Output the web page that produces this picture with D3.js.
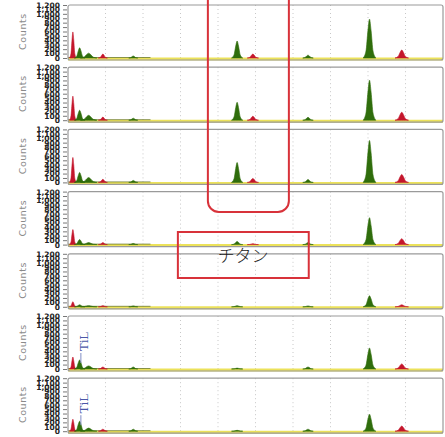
<!DOCTYPE html>
<html>
<head>
<meta charset="utf-8">
<script src="https://cdn.jsdelivr.net/npm/d3@7"></script>
<style>
  body { margin: 0; background: #fff; }
  svg { display: block; }
</style>
</head>
<body>
<div id="chart"></div>
<script>
// peak positions (keV) and how each one is coloured
const energies   = [0.13, 0.31, 0.55, 0.93, 1.74, 4.51, 4.93, 6.40, 8.04, 8.90];
const peakColors = ["red", "green", "green", "red", "green", "green", "red", "green", "green", "red"];
const peakWidths = [0.09, 0.14, 0.22, 0.12, 0.12, 0.15, 0.15, 0.14, 0.17, 0.18];

// peak heights (counts) per spectrum, same order as energies
const spectrum1 = [590, 230, 110, 90, 45, 385, 90, 65, 880, 180];
const spectrum2 = [545, 225, 110, 70, 45, 405, 90, 65, 905, 180];
const spectrum3 = [565, 225, 110, 70, 45, 450, 90, 65, 950, 180];
const spectrum4 = [340, 115, 45, 45, 25, 70, 20, 45, 610, 135];
const spectrum5 = [115, 45, 25, 25, 20, 25, 0, 20, 250, 45];
const spectrum6 = [270, 205, 70, 45, 45, 20, 0, 45, 475, 115];
const spectrum7 = [270, 225, 70, 45, 45, 20, 0, 45, 385, 115];
const spectra = [spectrum1, spectrum2, spectrum3, spectrum4, spectrum5, spectrum6, spectrum7];

const yTicks = [0, 100, 200, 300, 400, 500, 600, 700, 800, 900, 1000, 1100, 1200];
const xGrid = [1, 2, 3, 4, 5, 6, 7, 8, 9];
const markerEnergy = 0.45;          // Ti L line
const markerPanels = [5, 6];
const markerLabel = "TiL";
const boxLabel = "チタン";

// relative outline of one peak: [offset in widths, fraction of height]
const peakShape = [[-1, 0], [-0.55, 0.18], [-0.25, 0.7], [0, 1], [0.25, 0.7], [0.55, 0.18], [1, 0]];

const width = 445, height = 437;
const left = 68, right = 443;
const panelTop0 = 5, panelStep = 62.2, panelH = 53;

const colorOf = { red: "#c4162c", green: "#2f6d0c" };

const svg = d3.select("#chart").append("svg")
  .attr("width", width).attr("height", height);

const x = d3.scaleLinear().domain([0, 10]).range([left, right]);

const area = d3.area()
  .curve(d3.curveMonotoneX);

spectra.forEach((counts, i) => {
  const top = panelTop0 + i * panelStep;
  const y = d3.scaleLinear().domain([0, 1200]).range([top + panelH, top]);
  const g = svg.append("g");

  // vertical dotted grid
  g.selectAll(".grid")
    .data(xGrid)
    .enter()
    .append("line")
    .attr("x1", d => x(d)).attr("x2", d => x(d))
    .attr("y1", top).attr("y2", top + panelH)
    .attr("stroke", "#c8c8c8")
    .attr("stroke-width", 1)
    .attr("stroke-dasharray", "1,3");

  // yellow baseline band
  g.append("line")
    .attr("x1", left).attr("x2", right)
    .attr("y1", y(0) + 1).attr("y2", y(0) + 1)
    .attr("stroke", "#ece25a")
    .attr("stroke-width", 3);
  g.append("line")
    .attr("x1", left).attr("x2", x(2.2))
    .attr("y1", y(0) - 0.5).attr("y2", y(0) - 0.5)
    .attr("stroke", "#5a6a1a")
    .attr("stroke-opacity", 0.7)
    .attr("stroke-width", 1);

  // peaks
  const peaks = energies.map((e, k) => ({ e, w: peakWidths[k], h: counts[k], c: peakColors[k] }))
    .filter(p => p.h > 0);
  area.x(d => x(d[0])).y0(y(0)).y1(d => y(d[1]));
  g.selectAll(".peak")
    .data(peaks)
    .enter()
    .append("path")
    .attr("class", "peak")
    .attr("d", p => area(peakShape.map(s => [Math.max(0.02, p.e + s[0] * p.w), s[1] * p.h])))
    .attr("fill", p => colorOf[p.c])
    .attr("stroke", p => colorOf[p.c])
    .attr("stroke-width", 0.6);

  // frame
  g.append("rect")
    .attr("x", left).attr("y", top)
    .attr("width", right - left).attr("height", panelH + 2)
    .attr("rx", 2)
    .attr("fill", "none")
    .attr("stroke", "#9a9a9a")
    .attr("stroke-width", 1.2);

  // crowded count axis
  const axis = d3.axisLeft(y).tickValues(yTicks).tickSize(4).tickPadding(3);
  const ag = g.append("g")
    .attr("transform", `translate(${left - 1},0)`)
    .call(axis);
  ag.select(".domain").remove();
  ag.selectAll("line").attr("stroke", "#777");
  ag.selectAll("text")
    .attr("font-family", "DejaVu Sans")
    .attr("font-size", 7.5)
    .attr("font-weight", "bold")
    .attr("fill", "#222");

  g.append("text")
    .attr("transform", `translate(26,${top + panelH / 2}) rotate(-90)`)
    .attr("text-anchor", "middle")
    .attr("font-family", "DejaVu Sans")
    .attr("font-size", 9.5)
    .attr("letter-spacing", 0.6)
    .attr("fill", "#8a8a8a")
    .text("Counts");

  // element marker
  if (markerPanels.includes(i)) {
    g.append("line")
      .attr("x1", x(markerEnergy) - 4).attr("x2", x(markerEnergy) - 4)
      .attr("y1", y(0) - 6).attr("y2", y(0) - 16)
      .attr("stroke", "#7f8cc4")
      .attr("stroke-width", 1);
    g.append("text")
      .attr("transform", `translate(${x(markerEnergy) + 3},${y(0) - 18}) rotate(-90)`)
      .attr("font-family", "DejaVu Serif")
      .attr("font-size", 11.5)
      .attr("fill", "#4a58a8")
      .text(markerLabel);
  }
});

// highlight boxes
svg.append("rect")
  .attr("x", x(3.73)).attr("y", -14)
  .attr("width", x(5.89) - x(3.73)).attr("height", 226)
  .attr("rx", 11)
  .attr("fill", "none")
  .attr("stroke", "#d8323a")
  .attr("stroke-width", 2);

svg.append("rect")
  .attr("x", x(2.93)).attr("y", 232)
  .attr("width", x(6.42) - x(2.93)).attr("height", 46)
  .attr("fill", "none")
  .attr("stroke", "#d8323a")
  .attr("stroke-width", 2);

svg.append("text")
  .attr("x", x(4.67)).attr("y", 262)
  .attr("text-anchor", "middle")
  .attr("font-family", "Noto Sans CJK JP")
  .attr("font-weight", 300)
  .attr("font-size", 17)
  .attr("fill", "#222")
  .text(boxLabel);
</script>
</body>
</html>
